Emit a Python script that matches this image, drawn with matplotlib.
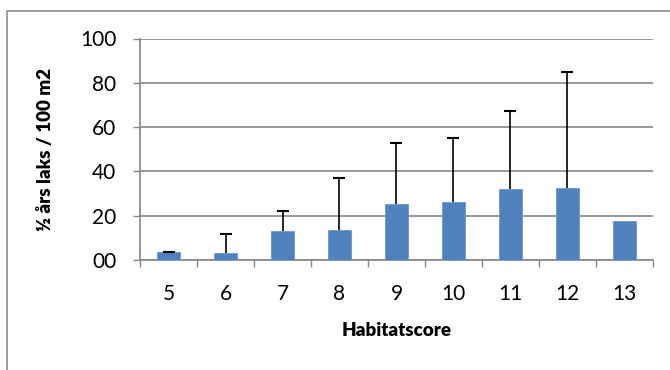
import numpy as np
import matplotlib.pyplot as plt
from matplotlib.patches import Rectangle

plt.rcParams['font.family'] = ['Lato', 'DejaVu Sans']

scores = ['5', '6', '7', '8', '9', '10', '11', '12', '13']
means = [3.5, 3.0, 13.0, 13.5, 25.1, 26.3, 32.2, 32.5, 17.5]
upper = [3.7, 11.8, 22.1, 37.2, 52.8, 55.2, 67.3, 84.7, 17.5]
err = [u - m for u, m in zip(upper, means)]

fig = plt.figure(figsize=(6.7, 3.7), dpi=100)
ax = fig.add_axes([140 / 670, 1 - 260 / 370, 513 / 670, 221.5 / 370])

# outer chart border (Excel style)
fig.patches.append(Rectangle((7 / 670, -0.1), 1.2, 1 - 11 / 370 + 0.1,
                             transform=fig.transFigure, fill=False,
                             edgecolor='#8c8c8c', lw=1.2))

x = np.arange(len(scores))
ax.bar(x, means, width=0.4, color='#4f81bd', edgecolor='#6d95c8', lw=0.6, zorder=3)
x_err = [i for i, e in zip(x, err) if e > 0]
m_err = [m for m, e in zip(means, err) if e > 0]
e_err = [e for e in err if e > 0]
_, caps, _ = ax.errorbar(x_err, m_err, yerr=[np.zeros(len(e_err)), e_err], fmt='none',
                         ecolor='black', elinewidth=1.2, capsize=4, capthick=1.5, zorder=4)
caps[0].set_visible(False)  # only upper caps

ax.set_xlim(-0.5, len(scores) - 0.5)
ax.set_ylim(0, 100)
ax.set_yticks([0, 20, 40, 60, 80, 100])
ax.set_yticklabels(['00', '20', '40', '60', '80', '100'])
ax.set_xticks(x)
ax.set_xticklabels(scores)
ax.set_xticks(np.arange(-0.5, len(scores)), minor=True)
ax.tick_params(axis='x', which='major', length=0, pad=17, labelsize=15)
ax.tick_params(axis='x', which='minor', length=5, color='#868686', width=1)
ax.tick_params(axis='y', length=5, color='#868686', width=1, labelsize=15, pad=12)

ax.grid(axis='y', color='#868686', lw=1.2, zorder=0)
for s in ['top', 'right']:
    ax.spines[s].set_visible(False)
for s in ['left', 'bottom']:
    ax.spines[s].set_color('#868686')
    ax.spines[s].set_linewidth(1.2)

ax.set_xlabel('Habitatscore', fontsize=13.5, fontweight='heavy')
ax.set_ylabel('½ års laks / 100 m2', fontsize=13.5, fontweight='heavy')
ax.xaxis.set_label_coords(0.5, -(322 - 260) / 221.5, transform=ax.transAxes)
ax.yaxis.set_label_coords(-(140 - 54) / 513, 0.5, transform=ax.transAxes)

fig.savefig('out.png', dpi=100)
